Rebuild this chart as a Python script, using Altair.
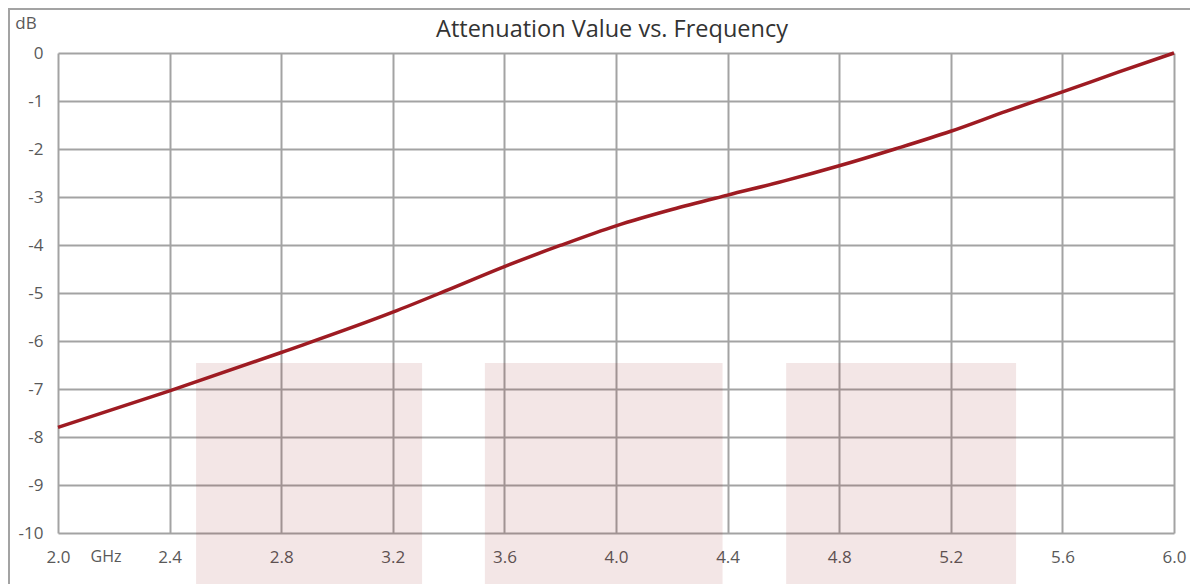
import altair as alt
import pandas as pd

# Curve values
freq = [2.0, 2.4, 2.8, 3.2, 3.4, 3.6, 3.8, 4.0, 4.2, 4.4, 4.6, 4.8, 5.0, 5.2, 5.4, 5.6, 5.8, 6.0]
atten = [-7.80, -7.04, -6.24, -5.40, -4.93, -4.45, -4.01, -3.60, -3.26, -2.96,
         -2.67, -2.35, -2.00, -1.63, -1.21, -0.81, -0.40, 0.0]

# Shaded bands
band_start = [2.495, 3.53, 4.61]
band_end = [3.305, 4.382, 5.434]
band_top = [-6.46, -6.46, -6.46]
band_bottom = [-11.2, -11.2, -11.2]

x_ticks = [2.0, 2.4, 2.8, 3.2, 3.6, 4.0, 4.4, 4.8, 5.2, 5.6, 6.0]
y_ticks = [0, -1, -2, -3, -4, -5, -6, -7, -8, -9, -10]

FONT = "Open Sans"
GRID = "#a3a3a3"
LABEL = "#595959"

curve = pd.DataFrame({"f": freq, "a": atten})
bands = pd.DataFrame({"x0": band_start, "x1": band_end, "y0": band_top, "y1": band_bottom})
one = pd.DataFrame({"k": [0]})

xscale = alt.Scale(domain=[2.0, 6.0], nice=False, zero=False)
yscale = alt.Scale(domain=[-10, 0], nice=False, zero=False)

xaxis = alt.Axis(values=x_ticks, format=".1f", title=None, grid=True, gridColor=GRID,
                 gridWidth=2, domain=False, ticks=False, labelFont=FONT, labelFontSize=17,
                 labelColor=LABEL, labelPadding=16, labelFlush=False)
yaxis = alt.Axis(values=y_ticks, title=None, grid=True, gridColor=GRID, gridWidth=2,
                 domain=False, ticks=False, labelFont=FONT, labelFontSize=17,
                 labelColor=LABEL, labelPadding=15, labelExpr="toString(datum.value)",
                 labelBaseline="middle")

band_layer = alt.Chart(bands).mark_rect(color="#870505", opacity=0.1, clip=False).encode(
    x=alt.X("x0:Q", scale=xscale, axis=xaxis),
    x2="x1:Q",
    y=alt.Y("y0:Q", scale=yscale, axis=yaxis),
    y2="y1:Q",
)

line_layer = alt.Chart(curve).mark_line(color="#9e1b22", strokeWidth=3.5,
                                        interpolate="monotone").encode(
    x=alt.X("f:Q", scale=xscale, axis=xaxis),
    y=alt.Y("a:Q", scale=yscale, axis=yaxis),
)

db_text = alt.Chart(one).mark_text(text="dB", font=FONT, fontSize=17, color=LABEL,
                                   align="center", baseline="middle").encode(
    x=alt.value(-32), y=alt.value(-29))
ghz_text = alt.Chart(one).mark_text(text="GHz", font=FONT, fontSize=16, color=LABEL,
                                    align="center", baseline="middle").encode(
    x=alt.value(48), y=alt.value(504))
title_text = alt.Chart(one).mark_text(text="Attenuation Value vs. Frequency", font=FONT,
                                      fontSize=23.5, color="#333333", align="center",
                                      baseline="middle").encode(
    x=alt.value(554), y=alt.value(-23))

top_border = alt.Chart(one).mark_rule(color=GRID, strokeWidth=2).encode(
    x=alt.value(-50), x2=alt.value(1200), y=alt.value(-44))
left_border = alt.Chart(one).mark_rule(color=GRID, strokeWidth=2).encode(
    x=alt.value(-49), y=alt.value(-44), y2=alt.value(600))

chart = alt.layer(
    band_layer, line_layer, db_text, ghz_text, title_text, top_border, left_border
).properties(
    width=1116, height=480,
    autosize=alt.AutoSizeParams(type="none"),
    padding={"left": 50, "top": 45, "right": 16, "bottom": 51},
).configure_view(stroke=None)

chart.save("out.html", embed_options={"renderer": "svg", "actions": False})
